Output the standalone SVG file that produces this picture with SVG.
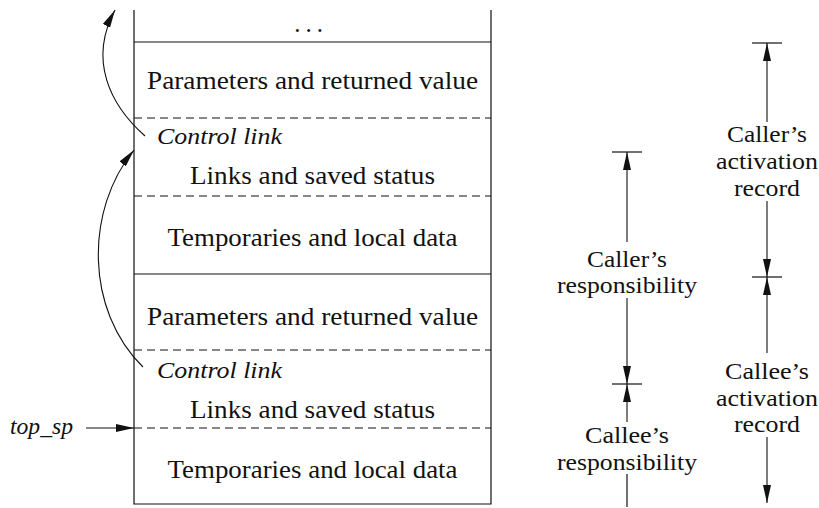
<svg xmlns="http://www.w3.org/2000/svg" width="819" height="508" viewBox="0 0 819 508" font-family="'Liberation Serif', 'DejaVu Serif', 'Times New Roman', serif">
<style>
.t{font-size:25px;fill:#111;text-anchor:middle}
.i{font-size:24px;font-style:italic;fill:#111}
.r{font-size:24px;fill:#111;text-anchor:middle}
.s{stroke:#111;stroke-width:1.2;fill:none}
.d{stroke:#111;stroke-width:1.1;fill:none;stroke-dasharray:8 5}
.a{stroke:#111;stroke-width:1.1;fill:none;marker-end:url(#ah)}
</style>
<defs>
<marker id="ah" markerWidth="18" markerHeight="8" refX="18" refY="4" orient="auto" markerUnits="userSpaceOnUse"><path d="M0,0 L18,4 L0,8 z" fill="#111"/></marker>
</defs>
<rect width="819" height="508" fill="#fff"/>
<g id="stack">
<path class="s" d="M134,10 V504 H491 V10"/>
<text class="t" x="311" y="32" letter-spacing="5">...</text>
<line class="s" x1="134" y1="42" x2="491" y2="42"/>
</g>
<g id="caller-record">
<text class="t" x="312.5" y="89" textLength="331" lengthAdjust="spacingAndGlyphs">Parameters and returned value</text>
<line class="d" x1="134" y1="118" x2="491" y2="118"/>
<text class="i" x="157" y="144" textLength="125" lengthAdjust="spacingAndGlyphs">Control link</text>
<text class="t" x="312.5" y="184" textLength="245" lengthAdjust="spacingAndGlyphs">Links and saved status</text>
<line class="d" x1="134" y1="196" x2="491" y2="196"/>
<text class="t" x="312.5" y="246" textLength="290" lengthAdjust="spacingAndGlyphs">Temporaries and local data</text>
<line class="s" x1="134" y1="274" x2="491" y2="274"/>
</g>
<g id="callee-record">
<text class="t" x="312.5" y="325" textLength="331" lengthAdjust="spacingAndGlyphs">Parameters and returned value</text>
<line class="d" x1="134" y1="350" x2="491" y2="350"/>
<text class="i" x="157" y="378" textLength="125" lengthAdjust="spacingAndGlyphs">Control link</text>
<text class="t" x="312.5" y="418" textLength="245" lengthAdjust="spacingAndGlyphs">Links and saved status</text>
<line class="d" x1="134" y1="428" x2="491" y2="428"/>
<text class="t" x="312.5" y="478" textLength="290" lengthAdjust="spacingAndGlyphs">Temporaries and local data</text>
</g>
<g id="top-sp">
<text class="i" x="10" y="434" textLength="63" lengthAdjust="spacingAndGlyphs">top_sp</text>
</g>
<g id="callers-responsibility">
<line class="s" x1="612" y1="152" x2="642" y2="152"/>
<text class="r" x="627" y="267" textLength="80" lengthAdjust="spacingAndGlyphs">Caller’s</text>
<text class="r" x="627" y="293" textLength="140" lengthAdjust="spacingAndGlyphs">responsibility</text>
<line class="s" x1="612" y1="384" x2="642" y2="384"/>
</g>
<g id="callees-responsibility">
<text class="r" x="627" y="443" textLength="84" lengthAdjust="spacingAndGlyphs">Callee’s</text>
<text class="r" x="627" y="470" textLength="140" lengthAdjust="spacingAndGlyphs">responsibility</text>
</g>
<g id="callers-activation-record">
<line class="s" x1="752" y1="43" x2="782" y2="43"/>
<text class="r" x="767" y="142" textLength="80" lengthAdjust="spacingAndGlyphs">Caller’s</text>
<text class="r" x="767" y="169" textLength="102" lengthAdjust="spacingAndGlyphs">activation</text>
<text class="r" x="767" y="196" textLength="66" lengthAdjust="spacingAndGlyphs">record</text>
<line class="s" x1="752" y1="277" x2="782" y2="277"/>
</g>
<g id="callees-activation-record">
<text class="r" x="767" y="379" textLength="84" lengthAdjust="spacingAndGlyphs">Callee’s</text>
<text class="r" x="767" y="406" textLength="102" lengthAdjust="spacingAndGlyphs">activation</text>
<text class="r" x="767" y="432" textLength="66" lengthAdjust="spacingAndGlyphs">record</text>
</g>
<g id="connectors">
<path class="a" d="M145,136 C110,105 88,60 115,10"/>
<path class="a" d="M143,367 C85,310 85,210 134,150"/>
<line class="a" x1="86" y1="428" x2="134" y2="428"/>
<line class="a" x1="627" y1="242" x2="627" y2="152"/>
<line class="a" x1="627" y1="298" x2="627" y2="384"/>
<line class="a" x1="627" y1="422" x2="627" y2="384"/>
<line class="s" x1="627" y1="474" x2="627" y2="507"/>
<line class="a" x1="767" y1="122" x2="767" y2="43"/>
<line class="a" x1="767" y1="201" x2="767" y2="277"/>
<line class="a" x1="767" y1="353" x2="767" y2="277"/>
<line class="a" x1="767" y1="437" x2="767" y2="503"/>
</g>
</svg>
